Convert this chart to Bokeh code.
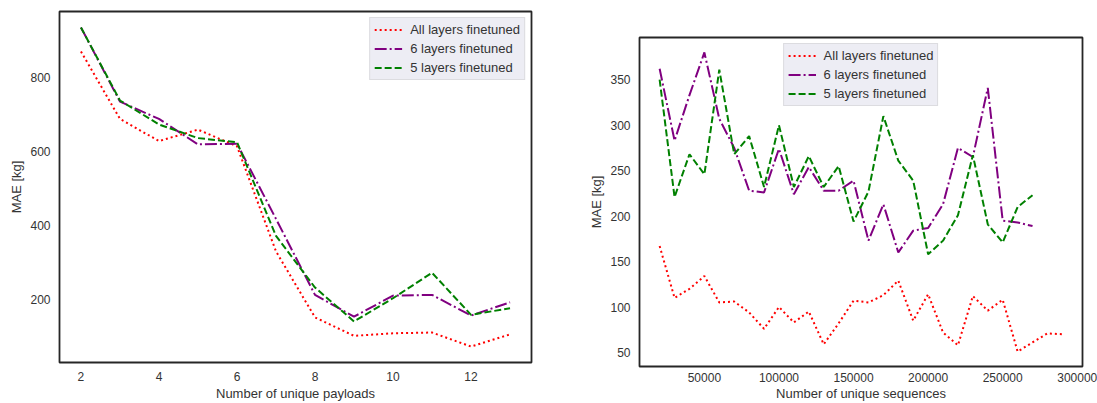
from bokeh.plotting import figure
from bokeh.layouts import row
from bokeh.models import Range1d, FixedTicker, BasicTickFormatter, Legend, LegendItem
from bokeh.embed import file_html
from bokeh.resources import INLINE

# ---- left panel data ----
payloads = [2, 3, 4, 5, 6, 7, 8, 9, 10, 11, 12, 13]
left_all = [872, 689, 629, 660, 615, 330, 151, 101, 108, 110, 72, 105]
left_6 = [937, 736, 689, 620, 622, 418, 212, 153, 210, 212, 156, 192]
left_5 = [937, 739, 674, 637, 626, 372, 232, 140, 203, 272, 158, 176]
left_xticks = [2, 4, 6, 8, 10, 12]
left_yticks = [200, 400, 600, 800]

# ---- right panel data ----
seq_all = [20000, 30000, 40000, 50000, 60000, 70000, 80000, 90000, 100000, 110000,
           120000, 130000, 140000, 150000, 160000, 170000, 180000, 190000, 200000,
           210000, 220000, 230000, 240000, 250000, 260000, 270000, 280000, 290000]
right_all = [167, 110, 120, 134, 105, 106, 94, 76, 100, 83,
             95, 59, 82, 107, 105, 113, 129, 85, 114,
             72, 58, 112, 96, 108, 51, 61, 71, 70]
seq_ft = seq_all[:26]
right_6 = [362, 283, 333, 380, 307, 275, 228, 226, 274, 224,
           254, 228, 228, 239, 173, 213, 160, 184, 187,
           213, 275, 265, 341, 195, 193, 189]
right_5 = [350, 221, 268, 246, 361, 268, 288, 232, 300, 232,
           266, 232, 255, 194, 227, 310, 261, 239, 158,
           173, 201, 267, 191, 171, 210, 223]
right_xticks = [50000, 100000, 150000, 200000, 250000, 300000]
right_yticks = [50, 100, 150, 200, 250, 300, 350]

labels = ["All layers finetuned", "6 layers finetuned", "5 layers finetuned"]
colors = ["red", "purple", "green"]
dashes = ["2 3", "12 3 2 3", "7 3"]

FONT = "Liberation Sans"
TXT = "#333333"


def padded(vals):
    lo, hi = min(vals), max(vals)
    pad = 0.05 * (hi - lo)
    return Range1d(lo - pad, hi + pad)


def make_fig(w, h, xs_list, ys_list, xticks, yticks, xlabel, legend_loc, borders,
             xstand):
    allx = [v for xs in xs_list for v in xs]
    ally = [v for ys in ys_list for v in ys]
    p = figure(width=w, height=h, output_backend="svg", toolbar_location=None,
               x_range=padded(allx), y_range=padded(ally))
    try:
        p.frame_align = False
    except Exception:
        pass
    p.min_border_left, p.min_border_right, p.min_border_top, p.min_border_bottom = borders
    p.background_fill_color = "white"
    p.border_fill_color = "white"
    p.outline_line_color = "#262626"
    p.outline_line_width = 1.8
    p.xgrid.visible = False
    p.ygrid.visible = False
    p.xaxis.ticker = FixedTicker(ticks=xticks)
    p.yaxis.ticker = FixedTicker(ticks=yticks)
    p.xaxis.formatter = BasicTickFormatter(use_scientific=False)
    for ax in (p.xaxis, p.yaxis):
        ax.axis_line_color = None
        ax.major_tick_line_color = None
        ax.minor_tick_line_color = None
        ax.major_tick_out = 0
        ax.major_tick_in = 0
        ax.minor_tick_out = 0
        ax.minor_tick_in = 0
        ax.major_label_text_font = FONT
        ax.major_label_text_font_size = "12px"
        ax.major_label_text_color = TXT
        ax.axis_label_text_font = FONT
        ax.axis_label_text_font_size = "13px"
        ax.axis_label_text_font_style = "normal"
        ax.axis_label_text_color = TXT
    p.xaxis.axis_label = xlabel
    p.yaxis.axis_label = "MAE [kg]"
    p.xaxis.major_label_standoff = xstand[0]
    p.xaxis.axis_label_standoff = xstand[1]
    p.yaxis.major_label_standoff = 9
    p.yaxis.axis_label_standoff = 3

    items = []
    for xs, ys, lab, c, d in zip(xs_list, ys_list, labels, colors, dashes):
        r = p.line(xs, ys, line_color=c, line_width=2, line_dash=d)
        items.append(LegendItem(label=lab, renderers=[r]))
    leg = Legend(items=items, location=legend_loc)
    leg.label_text_font = FONT
    leg.label_text_font_size = "13px"
    leg.label_text_color = TXT
    leg.background_fill_color = "#eaeaf2"
    leg.background_fill_alpha = 0.85
    leg.border_line_color = "#cccccc"
    leg.border_line_width = 1
    leg.glyph_width = 28
    leg.glyph_height = 15
    leg.label_standoff = 8
    leg.label_height = 15
    leg.spacing = 4
    leg.padding = 4
    leg.margin = 6
    p.add_layout(leg)
    return p


left = make_fig(560, 403, [payloads, payloads, payloads], [left_all, left_6, left_5],
                left_xticks, left_yticks, "Number of unique payloads", "top_right",
                (59, 29, 11, 41), (9, 2))
right = make_fig(537, 403, [seq_all, seq_ft, seq_ft], [right_all, right_6, right_5],
                 right_xticks, right_yticks, "Number of unique sequences", "top_center",
                 (79, 15, 37, 37), (6, 1))

layout = row(left, right)
open("out.html", "w").write(file_html(layout, INLINE))
